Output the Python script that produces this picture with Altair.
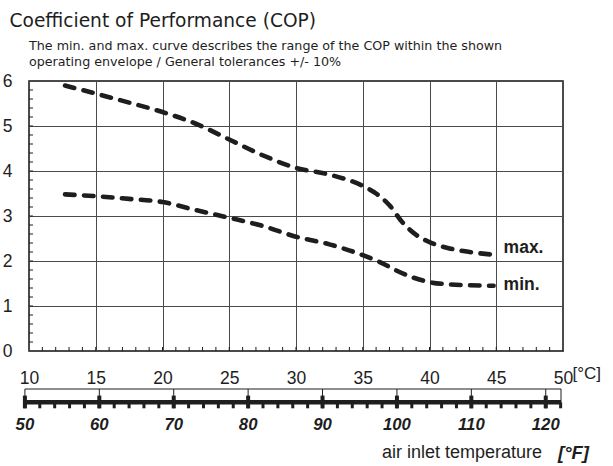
import altair as alt
import pandas as pd

FONT = "Liberation Sans"
HEAD_FONT = "DejaVu Sans"
INK = "#1e1e1e"

# ---- data ----
max_x = [12.7, 15, 17.5, 20, 22.5, 25, 27.5, 30, 32.5, 35, 36, 37, 38, 39, 40, 41.5, 43, 44.8]
max_y = [5.90, 5.72, 5.52, 5.31, 5.05, 4.70, 4.35, 4.07, 3.92, 3.67, 3.50, 3.24, 2.85, 2.58, 2.42, 2.28, 2.20, 2.14]
min_x = [12.7, 15, 17.5, 20, 22.5, 25, 27.5, 30, 32.5, 35, 36.4, 37.5, 38.8, 40, 41.5, 43, 44.8]
min_y = [3.48, 3.44, 3.38, 3.31, 3.13, 2.96, 2.78, 2.54, 2.37, 2.13, 1.96, 1.79, 1.63, 1.53, 1.48, 1.46, 1.45]
curve_names = ["max.", "min."]
label_x = [45.55, 45.55]
label_y = [2.29, 1.47]

c_ticks = [10, 15, 20, 25, 30, 35, 40, 45, 50]
cop_ticks = [0, 1, 2, 3, 4, 5, 6]
c_minor = [t for t in range(11, 50)]
cop_minor = [round(0.2 * i, 1) for i in range(1, 30)]

f_major = [50, 60, 70, 80, 90, 100, 110, 120]
f_minor = [f for f in range(50, 123, 2)]
F_END = 122.05

title_text = "Coefficient of Performance (COP)"
subtitle_lines = [
    "The min. and max. curve describes the range of the COP within the shown",
    "operating envelope / General tolerances +/- 10%",
]

# ---- tables ----
curves = pd.concat([
    pd.DataFrame({"t": max_x, "cop": max_y, "curve": "max."}),
    pd.DataFrame({"t": min_x, "cop": min_y, "curve": "min."}),
])
labels = pd.DataFrame({"t": label_x, "cop": label_y, "name": curve_names})
xminor = pd.DataFrame({"t": c_minor})
yminor = pd.DataFrame({"cop": cop_minor})

x_scale = alt.Scale(domain=[10, 50], nice=False, zero=False)
y_scale = alt.Scale(domain=[0, 6], nice=False, zero=False)

x_axis = alt.Axis(values=c_ticks, title=None, grid=True, gridColor="#4a4a4a", gridWidth=1,
                  domain=False, ticks=False, labelPadding=18, labelFontSize=17.5,
                  labelFont=FONT, labelColor=INK, labelFlush=False, format="d")
y_axis = alt.Axis(values=cop_ticks, title=None, grid=True, gridColor="#4a4a4a", gridWidth=1,
                  domain=False, ticks=False, labelPadding=17, labelFontSize=17.5,
                  labelFont=FONT, labelColor=INK, labelFlush=False, format="d")

lines = alt.Chart(curves).mark_line(
    color=INK, strokeWidth=4.6, strokeDash=[9.5, 9.5], strokeCap="round", interpolate="monotone"
).encode(
    x=alt.X("t:Q", scale=x_scale, axis=x_axis),
    y=alt.Y("cop:Q", scale=y_scale, axis=y_axis),
    detail="curve:N",
)

xticks = alt.Chart(xminor).mark_rule(color=INK, strokeWidth=1).encode(
    x=alt.X("t:Q"),
    y=alt.datum(0), y2=alt.datum(0.09),
)
yticks = alt.Chart(yminor).mark_rule(color=INK, strokeWidth=1).encode(
    y=alt.Y("cop:Q"),
    x=alt.datum(10), x2=alt.datum(10.3),
)

name_text = alt.Chart(labels).mark_text(
    align="left", baseline="middle", fontSize=17.5, fontWeight="bold", font=FONT, color=INK
).encode(
    x=alt.X("t:Q"),
    y=alt.Y("cop:Q"),
    text="name:N",
)

unit_c = alt.Chart(pd.DataFrame({"u": ["[°C]"]})).mark_text(
    align="left", baseline="alphabetic", fontSize=17, font=FONT, color=INK, dx=9.5
).encode(
    x=alt.datum(50), y=alt.value(297.5), text="u:N"
)

main = alt.layer(lines, xticks, yticks, name_text, unit_c).properties(
    width=534, height=270,
    title=alt.Title(subtitle_lines, anchor="start", frame="group", fontSize=12.7,
                    fontWeight="normal", font=HEAD_FONT, color=INK, lineHeight=16, offset=3),
    view=alt.ViewBackground(stroke="#111", strokeWidth=1.5),
)

# ---- Fahrenheit scale bar ----
f_scale = alt.Scale(domain=[50.55, F_END], nice=False, zero=False)
fmaj = pd.DataFrame({"f": f_major})
fmin = pd.DataFrame({"f": f_minor})
fbr = pd.DataFrame({"f": f_major + [F_END]})

bracket_top = alt.Chart(pd.DataFrame({"f": [50], "b": [F_END]})).mark_rule(
    color=INK, strokeWidth=1).encode(
    x=alt.X("f:Q", scale=f_scale, axis=None), x2="b:Q", y=alt.value(0))
bracket_v = alt.Chart(fbr).mark_rule(color=INK, strokeWidth=1).encode(
    x=alt.X("f:Q"), y=alt.value(0), y2=alt.value(13.3))
bar = alt.Chart(pd.DataFrame({"f": [50], "b": [F_END]})).mark_rule(
    color=INK, strokeWidth=4.5).encode(
    x=alt.X("f:Q"), x2="b:Q", y=alt.value(13.3))
minor_t = alt.Chart(fmin).mark_rule(color=INK, strokeWidth=3).encode(
    x=alt.X("f:Q"), y=alt.value(13.3), y2=alt.value(19.3))
major_t = alt.Chart(fmaj).mark_rule(color=INK, strokeWidth=4).encode(
    x=alt.X("f:Q"), y=alt.value(6.6), y2=alt.value(19.3))
f_lab = alt.Chart(fmaj).mark_text(
    baseline="middle", align="center", fontSize=16.8, fontWeight="bold", fontStyle="italic",
    font=FONT, color=INK).encode(
    x=alt.X("f:Q"), y=alt.value(35.8), text=alt.Text("f:Q", format="d"))
axis_title = alt.Chart(pd.DataFrame({"s": ["air inlet temperature"]})).mark_text(
    align="right", baseline="middle", fontSize=18, font=FONT, color=INK).encode(
    x=alt.value(513), y=alt.value(63.8), text="s:N")
unit_f = alt.Chart(pd.DataFrame({"s": ["[°F]"]})).mark_text(
    align="left", baseline="middle", fontSize=18.5, fontWeight="bold", fontStyle="italic",
    font=FONT, color=INK).encode(
    x=alt.value(529), y=alt.value(63.8), text="s:N")

fbar = alt.layer(bracket_top, bracket_v, bar, minor_t, major_t, f_lab, axis_title, unit_f).properties(
    width=532, height=20,
    view=alt.ViewBackground(stroke="transparent"),
)

chart = alt.vconcat(main, fbar, spacing=0).properties(
    title=alt.Title(title_text, anchor="start", fontSize=18.6, fontWeight="normal", font=HEAD_FONT,
                    color=INK, dx=8, offset=9),
    padding={"left": 1, "top": 11, "right": 5, "bottom": 5},
)

chart.save("out.html", embed_options={"renderer": "svg", "actions": False})
